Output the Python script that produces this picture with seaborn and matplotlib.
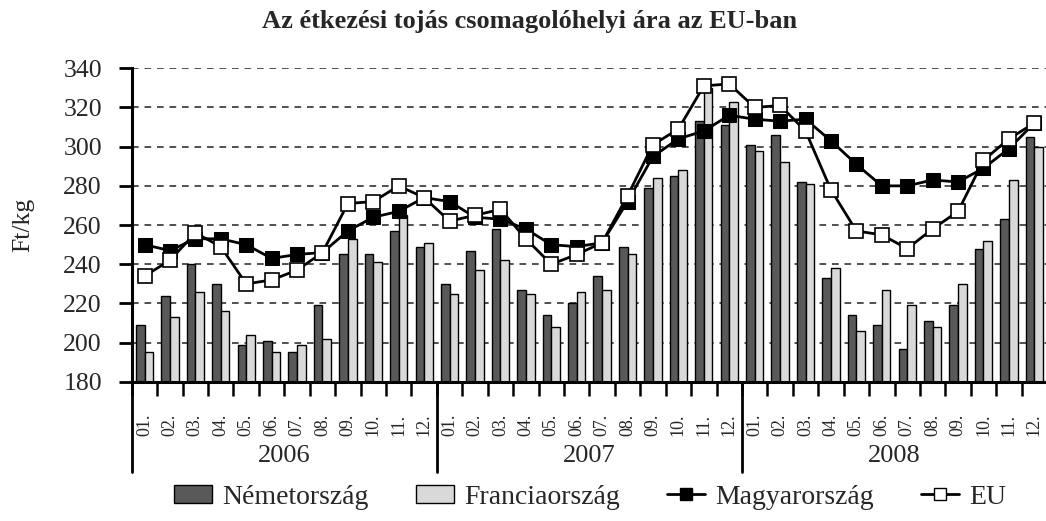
import numpy as np
import pandas as pd
import matplotlib
matplotlib.use("Agg")
import matplotlib.pyplot as plt
import seaborn as sns
from matplotlib.patches import Patch
from matplotlib.lines import Line2D
import matplotlib.transforms as mtransforms

years = ["2006", "2007", "2008"]
months = ["01.", "02.", "03.", "04.", "05.", "06.", "07.", "08.", "09.", "10.", "11.", "12."]

germany = [209, 224, 240, 230, 199, 201, 195, 219, 245, 245, 257, 249,
           230, 247, 258, 227, 214, 220, 234, 249, 279, 285, 313, 311,
           301, 306, 282, 233, 214, 209, 197, 211, 219, 248, 263, 305]
france = [195, 213, 226, 216, 204, 195, 199, 202, 253, 241, 265, 251,
          225, 237, 242, 225, 208, 226, 227, 245, 284, 288, 330, 323,
          298, 292, 281, 238, 206, 227, 219, 208, 230, 252, 283, 300]
hungary = [250, 247, 253, 253, 250, 243, 245, 246, 257, 264, 267, 274,
           272, 264, 263, 258, 250, 249, 251, 272, 295, 304, 308, 316,
           314, 313, 314, 303, 291, 280, 280, 283, 282, 289, 299, 312]
eu = [234, 242, 256, 249, 230, 232, 237, 246, 271, 272, 280, 274,
      262, 265, 268, 253, 240, 245, 251, 275, 301, 309, 331, 332,
      320, 321, 308, 278, 257, 255, 248, 258, 267, 293, 304, 312]

series_names = ["Németország", "Franciaország", "Magyarország", "EU"]

periods = [f"{y}-{m}" for y in years for m in months]
df = pd.DataFrame({
    "period": periods * 2,
    "country": [series_names[0]] * 36 + [series_names[1]] * 36,
    "value": germany + france,
})

sns.set_style("white")
plt.rcParams["font.family"] = ["Liberation Serif", "DejaVu Serif"]

fig = plt.figure(figsize=(10.46, 5.21), dpi=100)
ax = fig.add_axes([0.126, 0.267, 0.875, 0.602])

sns.barplot(data=df, x="period", y="value", hue="country", order=periods,
            hue_order=series_names[:2], palette=["#595959", "#d9d9d9"],
            width=0.68, edgecolor="black", linewidth=1.0, legend=False,
            ax=ax, zorder=2, errorbar=None)

idx = np.arange(36)
sns.lineplot(x=idx, y=hungary, ax=ax, color="black", linewidth=2.0,
             marker="s", markersize=10, markerfacecolor="black",
             markeredgecolor="black", zorder=4)
sns.lineplot(x=idx, y=eu, ax=ax, color="black", linewidth=2.0,
             marker="s", markersize=10, markerfacecolor="white",
             markeredgecolor="black", markeredgewidth=1.2, zorder=5)

ax.set_ylim(180, 340)
ax.set_xlim(-0.5, 35.5)
ax.set_yticks(np.arange(180, 341, 20))
ax.tick_params(axis="y", labelsize=18.5, length=9.5, width=2.0, pad=12,
               direction="out", left=True, color="black")
ax.yaxis.grid(True, linestyle=(0, (4, 3.5)), color="#333333", linewidth=1.2)
ax.set_axisbelow(True)

ax.set_xticks(idx)
ax.set_xticklabels(months * 3, rotation=90, fontsize=13, va="top")
ax.tick_params(axis="x", which="major", length=0, pad=23)
ax.set_xticks(np.arange(-0.5, 36, 1), minor=True)
ax.tick_params(axis="x", which="minor", length=10, width=1.8, direction="out",
               bottom=True, color="black")

for s in ["top", "right"]:
    ax.spines[s].set_visible(False)
for s in ["left", "bottom"]:
    ax.spines[s].set_color("black")
    ax.spines[s].set_linewidth(2.2)

ax.set_xlabel("")
ax.set_ylabel("Ft/kg", fontsize=18.5)
ax.yaxis.set_label_coords(-0.106, 0.5)

trans = mtransforms.blended_transform_factory(ax.transData, ax.transAxes)
for k, y in enumerate(years):
    ax.text(k * 12 + 5.5, -0.236, y, transform=trans, ha="center", va="center", fontsize=19)
for xb in [-0.5, 11.5, 23.5]:
    ax.add_line(Line2D([xb, xb], [0, -0.288], transform=trans, color="black",
                       linewidth=2.0, clip_on=False))

fig.text(0.506, 0.958, "Az étkezési tojás csomagolóhelyi ára az EU-ban",
         ha="center", va="center", fontsize=19, fontweight="bold")

handles = [
    Patch(facecolor="#595959", edgecolor="black", linewidth=1.0),
    Patch(facecolor="#d9d9d9", edgecolor="black", linewidth=1.0),
    Line2D([], [], color="black", linewidth=2.0, marker="s", markersize=9,
           markerfacecolor="black", markeredgecolor="black"),
    Line2D([], [], color="black", linewidth=2.0, marker="s", markersize=9,
           markerfacecolor="white", markeredgecolor="black"),
]
fig.legend(handles, series_names, loc="center", bbox_to_anchor=(0.564, 0.046),
           ncol=4, frameon=False, fontsize=20, handlelength=1.37,
           handleheight=0.62, handletextpad=0.36, columnspacing=1.7)

fig.savefig("out.png", dpi=100)
